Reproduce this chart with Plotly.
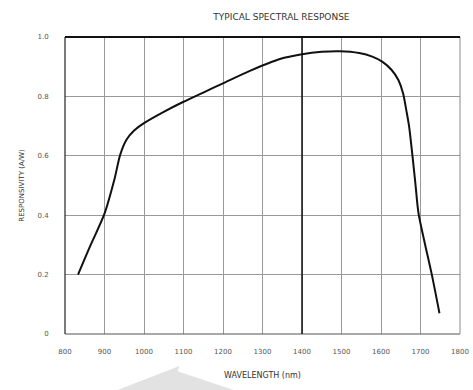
import plotly.graph_objects as go

wavelength = [833, 865, 900, 925, 940, 956, 975, 1000, 1050, 1100, 1150, 1200, 1268, 1344, 1400, 1450, 1495, 1545, 1578, 1603, 1627, 1644, 1656, 1664, 1671, 1679, 1687, 1695, 1711, 1728, 1748]
responsivity = [0.20, 0.30, 0.405, 0.52, 0.605, 0.655, 0.685, 0.71, 0.748, 0.782, 0.813, 0.844, 0.886, 0.926, 0.942, 0.950, 0.952, 0.946, 0.934, 0.917, 0.889, 0.855, 0.810, 0.754, 0.700, 0.608, 0.507, 0.406, 0.305, 0.204, 0.07]

x_ticks = [800, 900, 1000, 1100, 1200, 1300, 1400, 1500, 1600, 1700, 1800]
y_ticks = [0, 0.2, 0.4, 0.6, 0.8, 1.0]
y_labels = ["0", "0.2", "0.4", "0.6", "0.8", "1.0"]

fig = go.Figure()
fig.add_trace(go.Scatter(x=wavelength, y=responsivity, mode="lines",
                         line=dict(color="#111", width=2, shape="spline", smoothing=0.8),
                         hoverinfo="skip", showlegend=False))

font = dict(family="DejaVu Sans", size=7, color="#555")
fig.update_layout(
    width=473, height=390,
    margin=dict(l=65, r=13, t=37, b=56),
    paper_bgcolor="white", plot_bgcolor="white",
    font=font,
    title=dict(text="TYPICAL SPECTRAL RESPONSE", x=0.595, xanchor="center", y=0.957, yanchor="middle",
               font=dict(family="DejaVu Sans", size=9, color="#333")),
    xaxis=dict(range=[800, 1800], tickvals=x_ticks, ticktext=[str(v) for v in x_ticks],
               showgrid=True, gridcolor="#999", gridwidth=1, zeroline=False,
               showline=False,
               ticks="outside", ticklen=11, tickcolor="rgba(0,0,0,0)",
               title=dict(text="WAVELENGTH (nm)", font=dict(family="DejaVu Sans", size=8, color="#333"), standoff=16),
               tickfont=font, automargin=False),
    yaxis=dict(range=[0, 1.0], tickvals=y_ticks, ticktext=y_labels,
               showgrid=True, gridcolor="#999", gridwidth=1, zeroline=False,
               showline=False,
               ticks="outside", ticklen=14, tickcolor="rgba(0,0,0,0)",
               title=dict(text="RESPONSIVITY (A/W)", font=dict(family="DejaVu Sans", size=7, color="#333"), standoff=12),
               tickfont=font, automargin=False),
)

# frame: heavy top border, dark left, grey bottom/right, and the 1400 nm line
fig.add_shape(type="line", xref="paper", yref="paper", x0=0, x1=1, y0=0, y1=0,
              line=dict(color="#555", width=1.2))
fig.add_shape(type="line", xref="paper", yref="paper", x0=1, x1=1, y0=0, y1=1,
              line=dict(color="#888", width=1))
fig.add_shape(type="line", xref="paper", yref="paper", x0=0, x1=0, y0=0, y1=1,
              line=dict(color="#222", width=1.2))
fig.add_shape(type="line", xref="paper", yref="paper", x0=0, x1=1, y0=1, y1=1,
              line=dict(color="#111", width=2))
fig.add_shape(type="line", xref="x", yref="paper", x0=1400, x1=1400, y0=0, y1=1,
              line=dict(color="#111", width=1.5))

# faint scan artifact at the bottom
fig.add_shape(type="path", xref="paper", yref="paper",
              path="M 0.13 -0.19 L 0.29 -0.108 L 0.285 -0.125 L 0.43 -0.19 Z",
              fillcolor="#e2e2e2", line=dict(width=0), layer="below")

fig.write_html("out.html", config={"displayModeBar": False},
               post_script="document.body.style.margin='0';document.body.style.overflow='hidden';")
